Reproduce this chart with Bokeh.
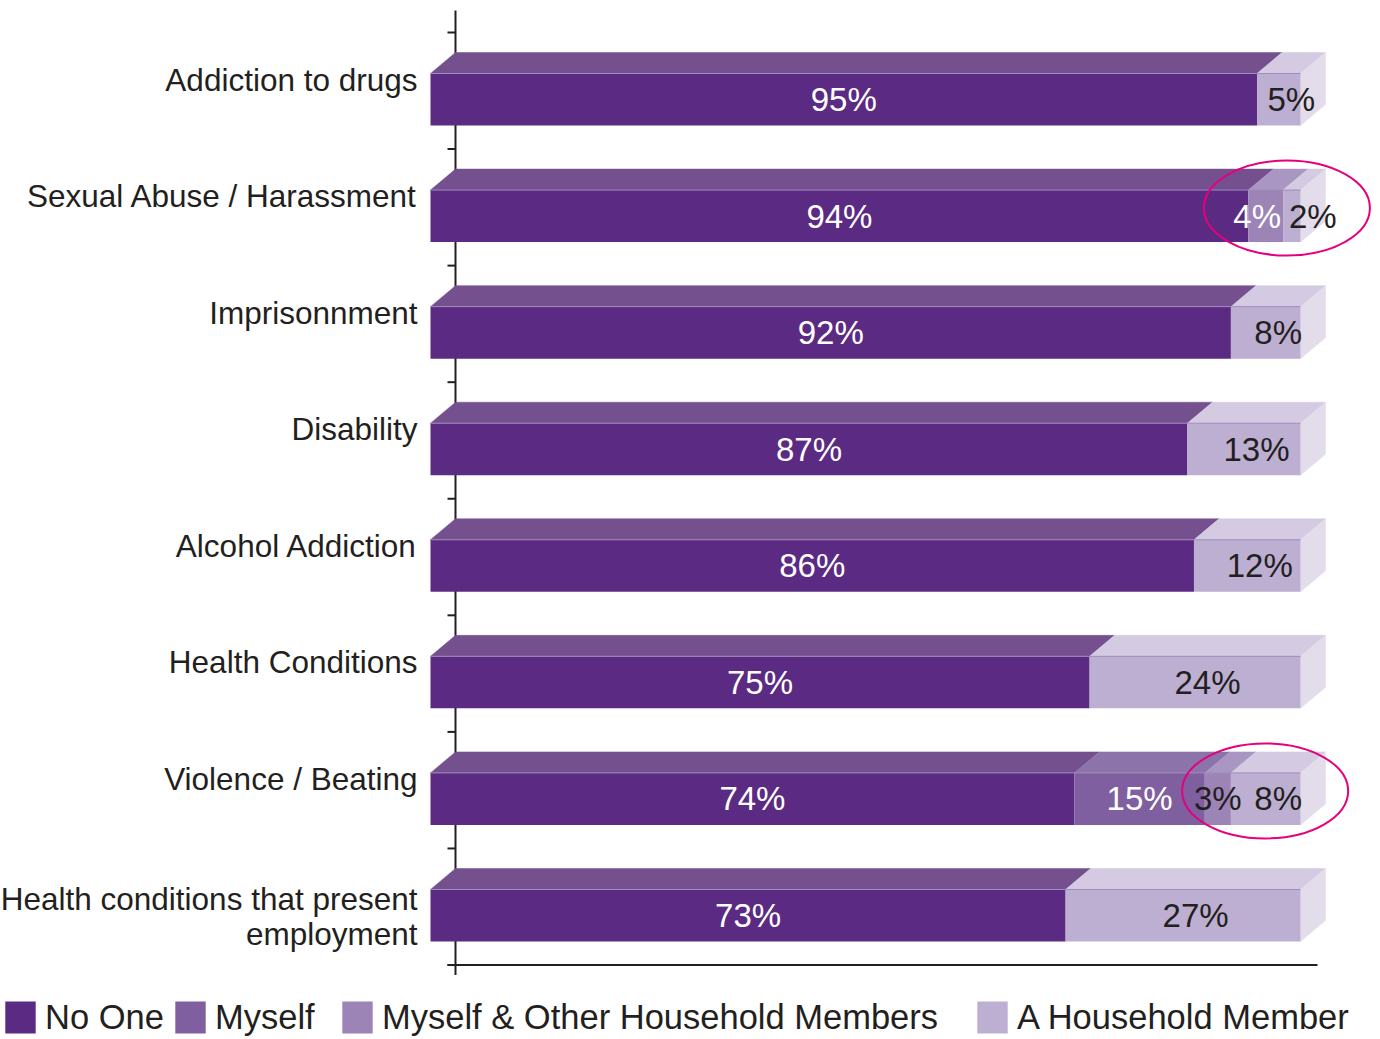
from bokeh.plotting import figure
from bokeh.models import Range1d, ColumnDataSource, Legend, LegendItem
from bokeh.core.properties import value
from bokeh.embed import file_html
from bokeh.resources import INLINE

# ---------------- data ----------------
categories = [
    "Addiction to drugs",
    "Sexual Abuse / Harassment",
    "Imprisonnment",
    "Disability",
    "Alcohol Addiction",
    "Health Conditions",
    "Violence / Beating",
    "Health conditions that present\nemployment",
]
series_names = ["No One", "Myself", "Myself & Other Household Members", "A Household Member"]
no_one = [95, 94, 92, 87, 86, 75, 74, 73]
myself = [0, 0, 0, 0, 0, 0, 15, 0]
myself_other = [0, 4, 0, 0, 0, 0, 3, 0]
household = [5, 2, 8, 13, 12, 24, 8, 27]
series_values = [no_one, myself, myself_other, household]

# ---------------- style ----------------
FRONT = ["#5b2a83", "#7f5f9f", "#9c84b6", "#bdafd2"]
TOP = ["#74508f", "#8c74ab", "#aa96c2", "#d4cae2"]
SIDE = "#e3dcea"
EDGE = "#a28cbc"
TEXT_DARK = "#231f20"
LABEL_COLORS = ["white", "white", "white", TEXT_DARK]
DARK_OVERRIDES = [("Violence / Beating", "Myself & Other Household Members")]
RING = "#e5007e"
FONT = "Liberation Sans"
FS_CAT = 31.5
FS_VAL = 33
FS_LEG = 34.5
LEGEND_X = [5, 175, 342, 977]   # left edge of each legend swatch

W, H = 1376, 1037
X0_PX = 430.0        # canvas px where 0 % sits (front plane)
PX_PER_PCT = 8.7
ROW0_PX = 99.0       # canvas px of first bar centre (front plane)
ROW_PX = 116.57
DX = 25 / PX_PER_PCT   # 3D depth, x
DY = 21 / ROW_PX       # 3D depth, y
HALF_H = 26 / ROW_PX   # half front-face height

x_start = -X0_PX / PX_PER_PCT
x_end = (W - X0_PX) / PX_PER_PCT
y_top = -ROW0_PX / ROW_PX
y_bottom = (H - ROW0_PX) / ROW_PX

p = figure(width=W, height=H, x_range=Range1d(x_start, x_end),
           y_range=Range1d(y_bottom, y_top), output_backend="svg",
           toolbar_location=None, x_axis_location=None, y_axis_location=None,
           min_border=0, outline_line_color=None)
p.title.visible = False
p.xgrid.grid_line_color = None
p.ygrid.grid_line_color = None
p.background_fill_color = "white"

n = len(categories)
rows = list(range(n))
totals = [sum(s[i] for s in series_values) for i in rows]

# segments (normalised so every bar spans the full width)
segs = []  # (row, series, left, right, value)
for i in rows:
    left = 0.0
    for s, vals in enumerate(series_values):
        v = vals[i]
        if v <= 0:
            continue
        w = v / totals[i] * 100
        segs.append((i, s, left, left + w, v))
        left += w

# ----- axis (back plane) -----
bounds = [k - 0.5 - 0.075 for k in range(n + 1)]
tick_len = 8 / PX_PER_PCT
p.segment(x0=[DX], y0=[bounds[0] - 22 / ROW_PX], x1=[DX], y1=[bounds[-1] + 10 / ROW_PX],
          line_color=TEXT_DARK, line_width=2)
p.segment(x0=[DX - tick_len] * (n + 1), y0=bounds, x1=[DX] * (n + 1), y1=bounds,
          line_color=TEXT_DARK, line_width=2)
p.segment(x0=[DX - tick_len], y0=[bounds[-1]], x1=[100 + DX - tick_len], y1=[bounds[-1]],
          line_color=TEXT_DARK, line_width=2)

# ----- top faces -----
tx, ty, tc = [], [], []
for (i, s, l, r, v) in segs:
    top = i - HALF_H
    tx.append([l, r, r + DX, l + DX])
    ty.append([top, top, top - DY, top - DY])
    tc.append(TOP[s])
p.patches(xs=tx, ys=ty, fill_color=tc, line_color=tc, line_width=0.5)

# ----- side faces -----
sx, sy = [], []
for i in rows:
    top, bot = i - HALF_H, i + HALF_H
    sx.append([100, 100 + DX, 100 + DX, 100])
    sy.append([top, top - DY, bot - DY, bot])
p.patches(xs=sx, ys=sy, fill_color=SIDE, line_color=SIDE, line_width=0.5)

# ----- front faces -----
renderers = []
for s, name in enumerate(series_names):
    sel = [g for g in segs if g[1] == s]
    src = ColumnDataSource(dict(
        left=[g[2] for g in sel], right=[g[3] for g in sel],
        top=[g[0] - HALF_H for g in sel], bottom=[g[0] + HALF_H for g in sel]))
    r = p.quad(left="left", right="right", top="top", bottom="bottom", source=src,
               fill_color=FRONT[s], line_color=None)
    renderers.append(r)

p.segment(x0=[0] * n, y0=[i - HALF_H for i in rows], x1=[100] * n,
          y1=[i - HALF_H for i in rows], line_color=EDGE, line_width=1)

# ----- value labels -----
def est_w(txt):
    return (0.556 * (len(txt) - 1) + 0.889) * FS_VAL

lab_x, lab_y, lab_t, lab_c = [], [], [], []
ring_rows = []
for i in rows:
    row_segs = [g for g in segs if g[0] == i]
    items = []
    for (_, s, l, r, v) in row_segs:
        txt = f"{v}%"
        if r >= 99.999 and s != 0:
            cx = (l + 100 + DX) / 2
        else:
            cx = (l + r) / 2
        col = LABEL_COLORS[s]
        if (categories[i], series_names[s]) in DARK_OVERRIDES:
            col = TEXT_DARK
        items.append([cx * PX_PER_PCT, txt, col, s])
    # push apart overlapping labels
    for _ in range(5):
        for a, b in zip(items[:-1], items[1:]):
            gap = (b[0] - est_w(b[1]) / 2) - (a[0] + est_w(a[1]) / 2)
            if gap < 8:
                d = (8 - gap) / 2
                a[0] -= d
                b[0] += d
    for it in items:
        lab_x.append(it[0] / PX_PER_PCT)
        lab_y.append(i)
        lab_t.append(it[1])
        lab_c.append(it[2])
    if series_values[2][i] > 0:
        start = [g[2] for g in row_segs if g[1] == 2][0]
        ring_rows.append((i, (start + 100 + DX) / 2))

p.text(x=lab_x, y=lab_y, text=lab_t, text_color=lab_c, text_align="center",
       text_baseline="middle", text_font=value(FONT), text_font_size=f"{FS_VAL}px")

# ----- category labels -----
cat_y = [i - HALF_H for i in rows]
cat_off = [6 + (c.count("\n")) * 21 for c in categories]
csrc = ColumnDataSource(dict(x=[0] * n, y=cat_y, text=categories, yo=cat_off))
p.text(x="x", y="y", text="text", y_offset="yo", x_offset=-13, source=csrc,
       text_align="right", text_baseline="middle", text_color=TEXT_DARK,
       text_font=value(FONT), text_font_size=f"{FS_CAT}px", text_line_height=0.95)

# ----- highlight rings -----
p.ellipse(x=[rx for _, rx in ring_rows], y=[i - 8 / ROW_PX for i, _ in ring_rows],
          width=166 / PX_PER_PCT, height=95 / ROW_PX,
          fill_color=None, line_color=RING, line_width=2)

# ----- legend (one block per entry so each sits where the original has it) -----
# Bokeh insets area swatches by 10 % of the glyph box, so the box is enlarged
GW, GH = 38, 40
for nm, r, lx in zip(series_names, renderers, LEGEND_X):
    lg = Legend(items=[LegendItem(label=nm, renderers=[r])],
                orientation="horizontal", location=(lx - 4, 0), padding=0, margin=0,
                spacing=0, label_standoff=6, glyph_width=GW, glyph_height=GH,
                label_text_font=FONT, label_text_font_size=f"{FS_LEG}px",
                label_text_color=TEXT_DARK, border_line_color=None,
                background_fill_alpha=0)
    p.add_layout(lg)

open("out.html", "w").write(file_html(p, INLINE))
